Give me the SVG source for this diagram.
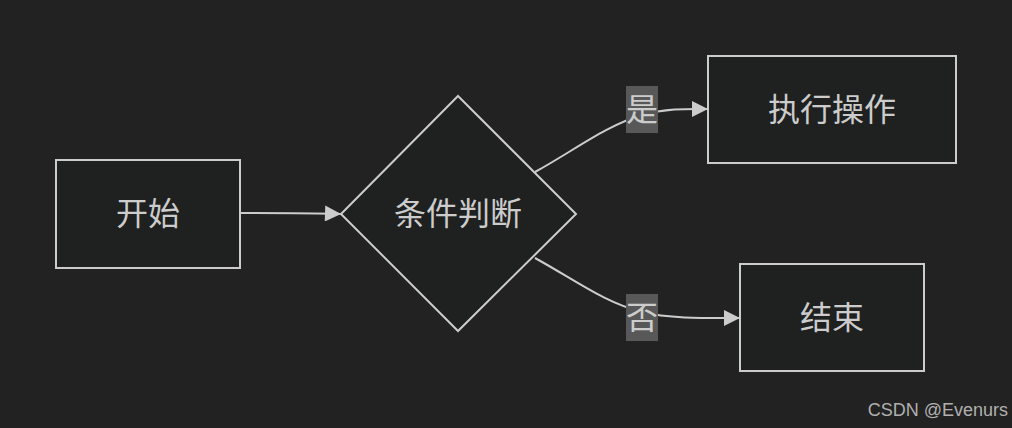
<svg xmlns="http://www.w3.org/2000/svg" width="1012" height="428" viewBox="0 0 1012 428">
<style>
.node{fill:#1f2020;stroke:#cccccc;stroke-width:2}
.lbl{font-family:"Noto Sans CJK SC","Noto Sans",sans-serif;font-size:32px;fill:#cccccc;text-anchor:middle;dominant-baseline:central}
.edge{fill:none;stroke:#cccccc;stroke-width:2}
.elbg{fill:#585858}
</style>
<defs>
<marker id="arr" viewBox="0 0 10 10" refX="10" refY="5" markerWidth="17" markerHeight="16" markerUnits="userSpaceOnUse" orient="auto">
<path d="M0,0 L10,5 L0,10 z" fill="#cccccc"/>
</marker>
</defs>
<rect width="1012" height="428" fill="#222222"/>
<g id="connectors">
<path class="edge" d="M240,213 C290,213 310,213 341,214" marker-end="url(#arr)"/>
<path class="edge" d="M535,172 C575,150 605,126 642,115 C668,108 690,109 708,109" marker-end="url(#arr)"/>
<path class="edge" d="M535,258 C575,280 605,303 642,312 C670,319 710,318 740,318" marker-end="url(#arr)"/>
<g id="label-yes"><rect class="elbg" x="626" y="86" width="32" height="47"/><text class="lbl" x="642" y="107">是</text></g>
<g id="label-no"><rect class="elbg" x="626" y="294" width="32" height="47"/><text class="lbl" x="642" y="315">否</text></g>
</g>
<g id="start"><rect class="node" x="56" y="160" width="184" height="108"/><text class="lbl" x="148" y="211">开始</text></g>
<g id="decision"><polygon class="node" points="458,96 576,214 458,331 341,214"/><text class="lbl" x="458" y="211">条件判断</text></g>
<g id="action"><rect class="node" x="708" y="56" width="248" height="107"/><text class="lbl" x="832" y="107">执行操作</text></g>
<g id="end"><rect class="node" x="740" y="264" width="184" height="107"/><text class="lbl" x="832" y="315">结束</text></g>
<text x="1008" y="416" font-family="Liberation Sans,Arial,sans-serif" font-size="18" fill="#b0b0b0" text-anchor="end">CSDN @Evenurs</text>
</svg>
